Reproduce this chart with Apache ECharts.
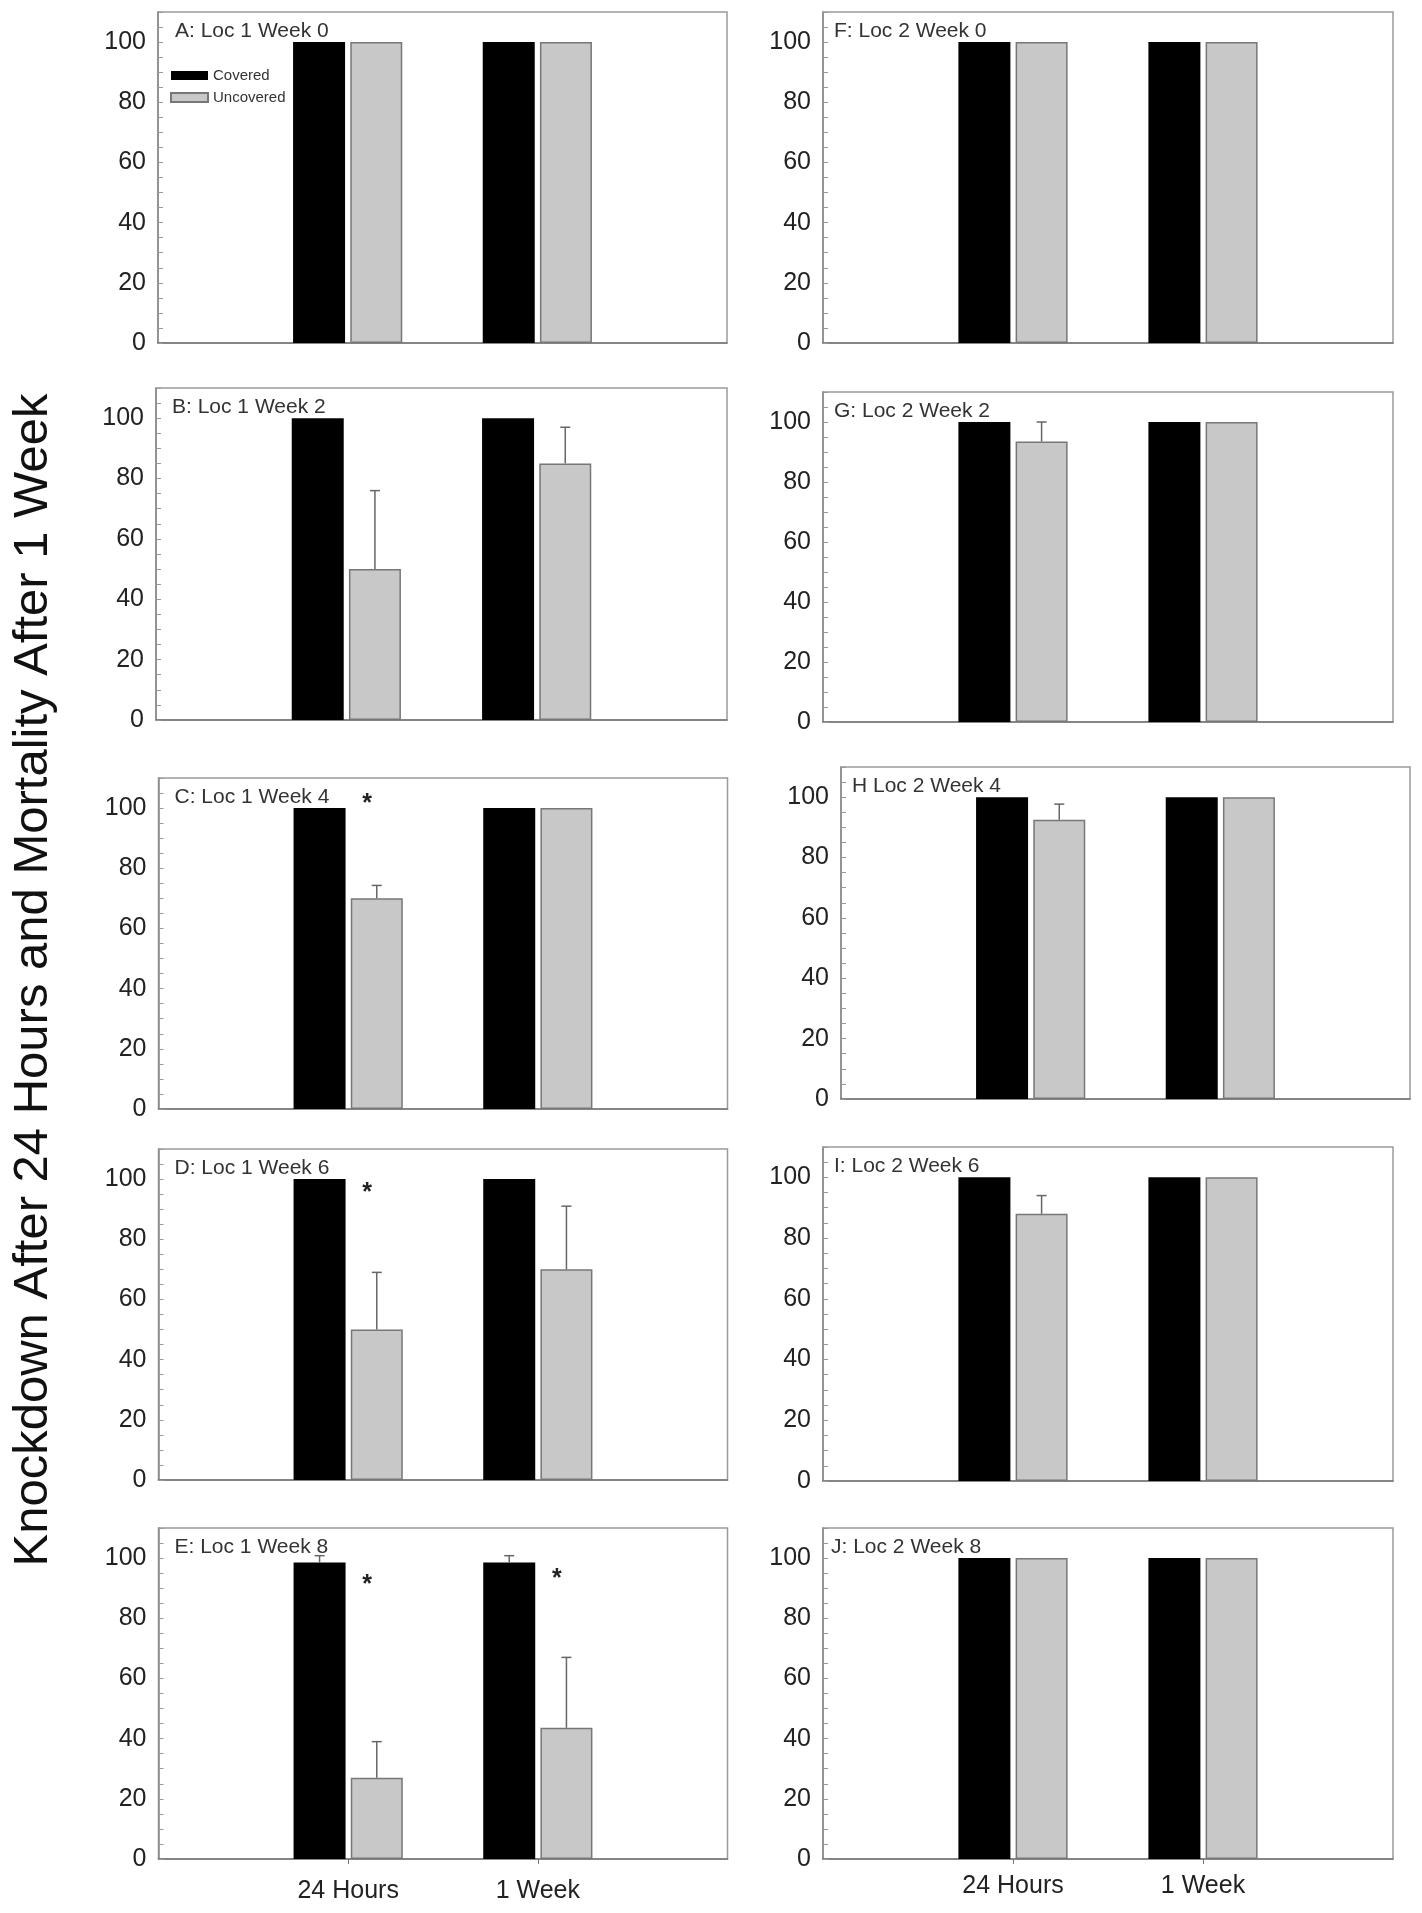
<!DOCTYPE html>
<html><head><meta charset="utf-8">
<script src="https://cdn.jsdelivr.net/npm/echarts@6/dist/echarts.min.js"></script>
<style>html,body{margin:0;padding:0;background:#fff}#c{width:1422px;height:1913px}</style>
</head><body><div id="c"></div><script>
// ---------- data ----------
const categories = ['', '24 Hours', '1 Week', ''];
const panelTitles = ['A: Loc 1 Week 0', 'B: Loc 1 Week 2', 'C: Loc 1 Week 4', 'D: Loc 1 Week 6', 'E: Loc 1 Week 8',
                     'F: Loc 2 Week 0', 'G: Loc 2 Week 2', 'H Loc 2 Week 4', 'I: Loc 2 Week 6', 'J: Loc 2 Week 8'];
const legendNames = ['Covered', 'Uncovered'];
// [24 Hours, 1 Week] for each panel A..J
const coveredValues   = [[100,100],[100,100],[100,100],[100,100],[98.5,98.5],[100,100],[100,100],[100,100],[100,100],[100,100]];
const uncoveredValues = [[100,100],[50,85],[70,100],[50,70],[27,43.6],[100,100],[93.5,100],[92.5,100],[88,100],[100,100]];
// top of error bars (null = no error bar)
const coveredErrorTops   = [[null,null],[null,null],[null,null],[null,null],[100.8,100.8],[null,null],[null,null],[null,null],[null,null],[null,null]];
const uncoveredErrorTops = [[null,null],[76,97],[74.3,null],[69,91],[39,67],[null,null],[100,null],[97.7,null],[94,null],[null,null]];
// significance marks: [panel index, category index, value]
const asteriskMarks = [[2,1,103],[3,1,97],[4,1,92.7],[4,2,94.7]];
const yTickLabels = [0, 20, 40, 60, 80, 100];
const yAxisTitle = 'Knockdown After 24 Hours and Mortality After 1 Week';

// ---------- layout ----------
const layout = [
  {l:158, t:12,   w:569, h:331, tx:17},
  {l:156, t:388,  w:571, h:332, tx:16},
  {l:158.5, t:778, w:569, h:331, tx:16},
  {l:158.5, t:1149, w:569, h:331, tx:16},
  {l:158.5, t:1528, w:569, h:331, tx:16},
  {l:823, t:12,   w:570, h:331, tx:11},
  {l:823, t:392,  w:570, h:330, tx:11},
  {l:841, t:767,  w:569, h:332, tx:11},
  {l:823, t:1147, w:570, h:334, tx:11},
  {l:823, t:1528, w:570, h:331, tx:8}
];
const FONT = '"Liberation Sans", Arial, Helvetica, sans-serif';
const BAR_W = 52, OFF = 28.6;

const grids = [], xAxes = [], yAxes = [], series = [], titles = [];
layout.forEach((g, i) => {
  const bottom = (i === 4 || i === 9);
  grids.push({left:g.l, top:g.t, width:g.w, height:g.h, show:true, borderColor:'#9a9a9a', borderWidth:1.5});
  xAxes.push({
    type:'category', gridIndex:i, data:categories, boundaryGap:false,
    axisLine:{show:true, lineStyle:{color:'#777', width:1.5}},
    axisTick:{show:bottom, interval:(idx) => idx === 1 || idx === 2, length:5, lineStyle:{color:'#777'}},
    axisLabel:{show:bottom, interval:0, fontSize:25, color:'#222', fontFamily:FONT, margin: i === 4 ? 20 : 15},
    splitLine:{show:false}
  });
  yAxes.push({
    type:'value', gridIndex:i, min:0, max:110, interval:5,
    axisLine:{show:true, lineStyle:{color:'#888', width:1.5}},
    axisTick:{show:true, inside:true, length:5, lineStyle:{color:'#999'}},
    axisLabel:{fontSize:25, color:'#222', fontFamily:FONT, margin:12,
      formatter:(v) => yTickLabels.includes(v) ? String(v) : ''},
    splitLine:{show:false}
  });
  titles.push({text:panelTitles[i], left:g.l + g.tx, top:g.t + 9, padding:0,
    textStyle:{fontSize:21, fontWeight:'normal', color:'#333', fontFamily:FONT}});

  const cv = coveredValues[i], uv = uncoveredValues[i];
  series.push({name:legendNames[0], type:'bar', xAxisIndex:i, yAxisIndex:i, barWidth:BAR_W, barGap:'10%',
    data:[null, cv[0], cv[1], null], itemStyle:{color:'#000'}, silent:true});
  series.push({name:legendNames[1], type:'bar', xAxisIndex:i, yAxisIndex:i, barWidth:BAR_W, barGap:'10%',
    data:[null, uv[0], uv[1], null], itemStyle:{color:'#c8c8c8', borderColor:'#777', borderWidth:1.5}, silent:true});

  const mkErr = (tops, vals, offset) => {
    const data = [];
    tops.forEach((t, k) => { if (t != null) data.push([k + 1, t, vals[k]]); });
    return {type:'custom', xAxisIndex:i, yAxisIndex:i, data, silent:true, z:3,
      renderItem:(p, api) => {
        const a = api.coord([api.value(0), api.value(2)]);
        const b = api.coord([api.value(0), api.value(1)]);
        const cx = a[0] + offset;
        return {type:'group', children:[
          {type:'line', shape:{x1:cx, y1:a[1], x2:cx, y2:b[1]}, style:{stroke:'#666', lineWidth:1.5}},
          {type:'line', shape:{x1:cx - 5, y1:b[1], x2:cx + 5, y2:b[1]}, style:{stroke:'#666', lineWidth:1.5}}
        ]};
      }};
  };
  series.push(mkErr(coveredErrorTops[i], cv, -OFF));
  series.push(mkErr(uncoveredErrorTops[i], uv, OFF));

  const marks = asteriskMarks.filter(m => m[0] === i).map(m => [m[1], m[2]]);
  if (marks.length) {
    series.push({type:'custom', xAxisIndex:i, yAxisIndex:i, data:marks, silent:true, z:4,
      renderItem:(p, api) => {
        const pt = api.coord([api.value(0), api.value(1)]);
        return {type:'text', x:pt[0] + 19, y:pt[1] + 5,
          style:{text:'*', fontSize:25, fontWeight:'bold', fontFamily:FONT, fill:'#222', align:'center', verticalAlign:'middle'}};
      }});
  }
});

const chart = echarts.init(document.getElementById('c'), null, {renderer:'canvas'});
chart.setOption({
  backgroundColor:'#fff',
  animation:false,
  title:titles,
  legend:{data:legendNames, orient:'vertical', left:170, top:68, itemWidth:37, itemHeight:9, itemGap:7,
    icon:'rect', padding:0, selectedMode:false, textStyle:{fontSize:15, color:'#333', fontFamily:FONT}},
  grid:grids, xAxis:xAxes, yAxis:yAxes, series:series,
  graphic:[{type:'text', x:33, y:980, rotation:Math.PI / 2,
    style:{text:yAxisTitle, fontSize:49, fontFamily:FONT, fill:'#111', align:'center', verticalAlign:'middle'}}]
});
</script></body></html>
